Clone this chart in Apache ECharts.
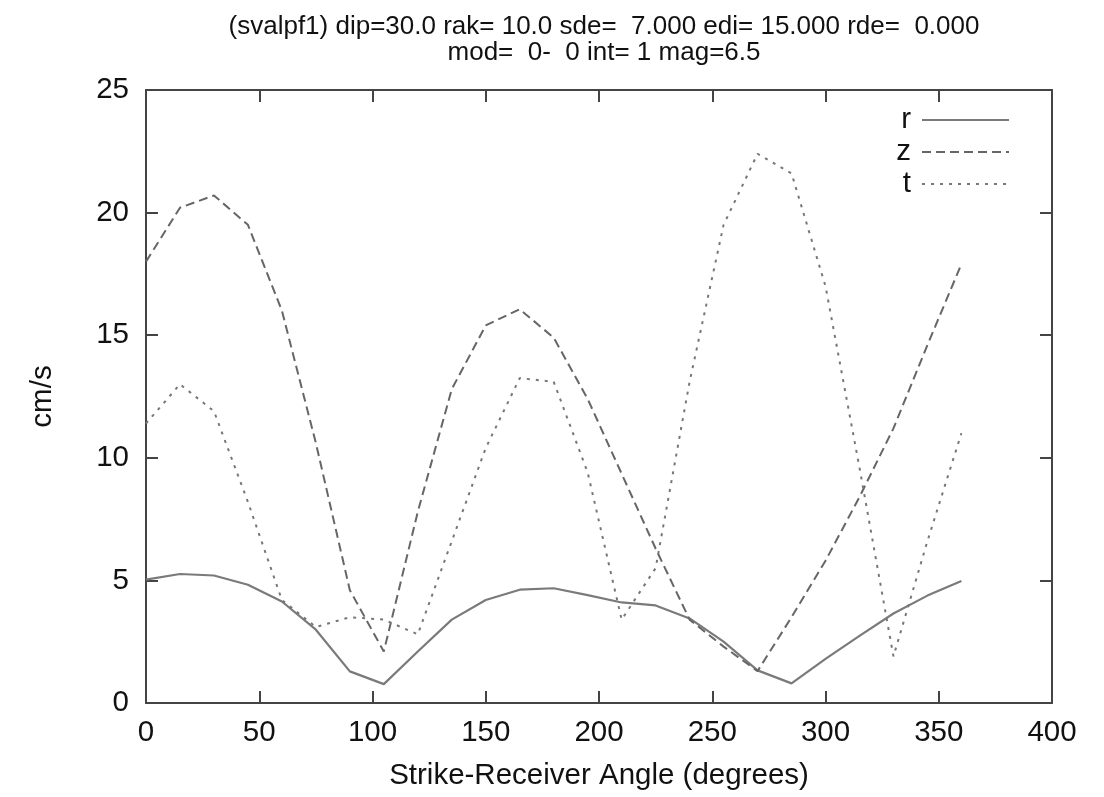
<!DOCTYPE html>
<html>
<head>
<meta charset="utf-8">
<script src="https://cdn.jsdelivr.net/npm/echarts@6/dist/echarts.min.js"></script>
<style>
html,body{margin:0;padding:0;background:#fff;}
#c{width:1104px;height:797px;}
</style>
</head>
<body>
<div id="c"></div>
<script>
const angles = [0,15,30,45,60,75,90,105,120,135,150,165,180,195,210,225,240,255,270,285,300,315,330,345,360];
const rValues = [5.03,5.26,5.2,4.82,4.14,2.99,1.29,0.77,2.1,3.4,4.2,4.62,4.68,4.4,4.1,3.98,3.45,2.5,1.33,0.8,1.8,2.74,3.65,4.38,4.98];
const zValues = [18.0,20.2,20.7,19.5,16.0,10.6,4.6,2.1,7.8,12.8,15.4,16.06,14.9,12.4,9.35,6.3,3.4,2.3,1.3,3.5,5.8,8.4,11.2,14.6,17.9];
const tValues = [11.4,13.0,11.9,8.2,4.2,3.1,3.5,3.4,2.8,6.6,10.4,13.25,13.1,9.4,3.4,5.5,13.1,19.5,22.4,21.6,17.0,9.6,1.9,6.6,11.0];
const xTicks = [0,50,100,150,200,250,300,350,400];
const yTicks = [0,5,10,15,20,25];
const titleLines = ["(svalpf1) dip=30.0 rak= 10.0 sde=  7.000 edi= 15.000 rde=  0.000", "mod=  0-  0 int= 1 mag=6.5"];
const xName = "Strike-Receiver Angle (degrees)";
const yName = "cm/s";

const pairs = v => angles.map((a, i) => [a, v[i]]);
const FONT = "'Liberation Sans', Arial, sans-serif";
const axisCol = '#444';
const FS = 29.5;

const chart = echarts.init(document.getElementById('c'), null, {renderer: 'canvas'});
const baseAxis = {
  type: 'value',
  axisLine: {show: true, onZero: false, lineStyle: {color: axisCol, width: 2}},
  axisTick: {show: true, inside: true, length: 12, lineStyle: {color: axisCol, width: 2}},
  splitLine: {show: false},
  axisLabel: {color: '#111', fontSize: FS, fontFamily: FONT},
};
chart.setOption({
  animation: false,
  backgroundColor: '#fff',
  title: {
    text: titleLines.join('\n'),
    left: 599, textAlign: 'center', top: 9,
    textStyle: {fontSize: 26, fontWeight: 'normal', color: '#111', fontFamily: FONT, lineHeight: 26}
  },
  legend: {
    orient: 'vertical', right: 89, top: 100, align: 'right',
    itemWidth: 87, itemHeight: 14, itemGap: 2,
    itemStyle: {opacity: 0},
    textStyle: {fontSize: FS, color: '#111', fontFamily: FONT, lineHeight: 30, padding: [0, 6, 0, 0]},
    data: ['r', 'z', 't']
  },
  grid: {left: 146, right: 52, top: 90, bottom: 94, containLabel: false},
  xAxis: [
    Object.assign({}, baseAxis, {
      min: 0, max: 400, interval: 50, position: 'bottom',
      name: xName, nameLocation: 'middle', nameGap: 58,
      nameTextStyle: {fontSize: FS, color: '#111', fontFamily: FONT},
      axisLabel: Object.assign({}, baseAxis.axisLabel, {margin: 15, formatter: v => xTicks.includes(v) ? String(v) : ''})
    }),
    Object.assign({}, baseAxis, {min: 0, max: 400, interval: 50, position: 'top', axisLabel: {show: false}})
  ],
  yAxis: [
    Object.assign({}, baseAxis, {
      min: 0, max: 25, interval: 5, position: 'left',
      name: yName, nameLocation: 'middle', nameGap: 88, nameRotate: 90,
      nameTextStyle: {fontSize: FS, color: '#111', fontFamily: FONT},
      axisLabel: Object.assign({}, baseAxis.axisLabel, {margin: 17, formatter: v => yTicks.includes(v) ? String(v) : ''})
    }),
    Object.assign({}, baseAxis, {min: 0, max: 25, interval: 5, position: 'right', axisLabel: {show: false}})
  ],
  series: [
    {name: 'r', type: 'line', data: pairs(rValues), showSymbol: false, symbol: 'none',
     lineStyle: {color: '#7a7a7a', width: 2.2, type: 'solid'}, itemStyle: {color: '#7a7a7a'}},
    {name: 'z', type: 'line', data: pairs(zValues), showSymbol: false, symbol: 'none',
     lineStyle: {color: '#666', width: 2, type: [9, 5]}, itemStyle: {color: '#666'}},
    {name: 't', type: 'line', data: pairs(tValues), showSymbol: false, symbol: 'none',
     lineStyle: {color: '#777', width: 2, type: [3, 6]}, itemStyle: {color: '#777'}}
  ]
});
</script>
</body>
</html>
